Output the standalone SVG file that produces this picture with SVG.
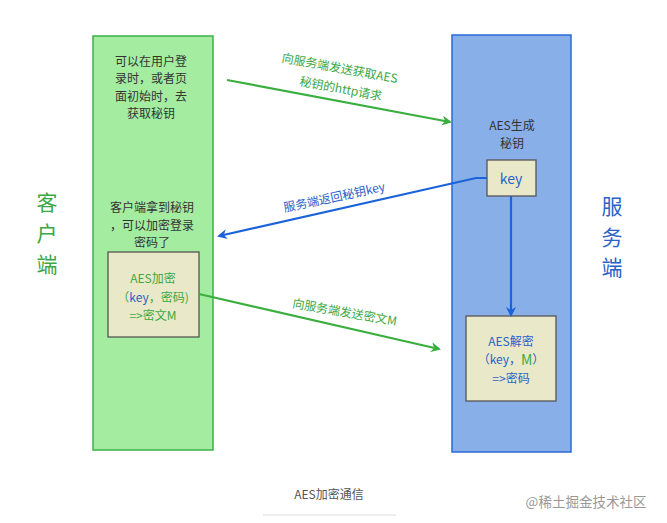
<svg xmlns="http://www.w3.org/2000/svg" width="667" height="523" viewBox="0 0 667 523">
<style>
text{font-family:"Noto Sans CJK SC","Noto Sans",sans-serif;text-anchor:middle;dominant-baseline:central}
.t{font-size:12px;fill:#333}
.g{fill:#3aa845}
.b{fill:#2a62c8}
.box{fill:#e9e8c9;stroke:#555;stroke-width:1.3}
.ga{stroke:#3aaf3f;stroke-width:2.2;fill:none}
.ba{stroke:#1b63d8;stroke-width:2.2;fill:none}
</style>
<defs>
<marker id="mg" markerWidth="10" markerHeight="10" refX="8" refY="5" orient="auto" markerUnits="userSpaceOnUse"><path d="M0,0 L10,5 L0,10 L3,5 Z" fill="#3aaf3f"/></marker>
<marker id="mb" markerWidth="10" markerHeight="10" refX="8" refY="5" orient="auto" markerUnits="userSpaceOnUse"><path d="M0,0 L10,5 L0,10 L3,5 Z" fill="#1b63d8"/></marker>
</defs>
<rect width="667" height="523" fill="#fff"/>
<g id="client">
<rect x="93" y="36" width="120" height="414" fill="#a4eda0" stroke="#3db04a" stroke-width="1.5"/>
<text class="t" x="151" y="60">可以在用户登</text>
<text class="t" x="151" y="77.6">录时，或者页</text>
<text class="t" x="151" y="95.2">面初始时，去</text>
<text class="t" x="151" y="112.8">获取秘钥</text>
<text class="t" x="152" y="206.4">客户端拿到秘钥</text>
<text class="t" x="152" y="224">，可以加密登录</text>
<text class="t" x="152" y="241.6">密码了</text>
</g>
<g id="encrypt">
<rect class="box" x="108" y="252" width="91" height="85"/>
<text class="t g" x="153" y="277">AES加密</text>
<text class="t g" x="153" y="296">（<tspan class="b">key</tspan>，密码)</text>
<text class="t g" x="153" y="314">=&gt;密文M</text>
</g>
<g id="server">
<rect x="452" y="35" width="119" height="417" fill="#89afe9" stroke="#2a6ad6" stroke-width="1.5"/>
<text class="t" x="512" y="124">AES生成</text>
<text class="t" x="512" y="142">秘钥</text>
</g>
<g id="key">
<rect class="box" x="487" y="160" width="49" height="36"/>
<text class="b" x="511" y="178" font-size="14">key</text>
</g>
<g id="decrypt">
<rect class="box" x="466" y="316" width="90" height="85"/>
<text class="t b" x="511" y="340">AES解密</text>
<text class="t b" x="511" y="358.5">（key，<tspan class="g" font-size="14">M</tspan>）</text>
<text class="t b" x="511" y="377">=&gt;密码</text>
</g>
<g id="side-labels">
<text class="g" x="47" y="201" font-size="21">客</text>
<text class="g" x="47" y="232" font-size="21">户</text>
<text class="g" x="47" y="263" font-size="21">端</text>
<text class="b" x="612" y="205" font-size="21">服</text>
<text class="b" x="612" y="236" font-size="21">务</text>
<text class="b" x="612" y="266" font-size="21">端</text>
</g>
<g id="connectors">
<path class="ga" d="M227,80 L450,122" marker-end="url(#mg)"/>
<path class="ba" d="M487,178 L476,178 L219,236" marker-end="url(#mb)"/>
<path class="ga" d="M199,294 L439,349" marker-end="url(#mg)"/>
<path class="ba" d="M511,196 L511,315" marker-end="url(#mb)"/>
<text class="t g" font-size="12.5" transform="translate(340,67) rotate(10.5)">向服务端发送获取AES</text>
<text class="t g" font-size="12.5" transform="translate(341,87.5) rotate(10.5)">秘钥的http请求</text>
<text class="t b" font-size="12.5" transform="translate(334,196) rotate(-12)">服务端返回秘钥key</text>
<text class="t g" font-size="12.5" transform="translate(345,311) rotate(10)">向服务端发送密文M</text>
</g>
<g id="caption">
<text x="329" y="493" font-size="12" fill="#555">AES加密通信</text>
<line x1="263" y1="515" x2="396" y2="515" stroke="#ddd" stroke-width="1"/>
<text x="586" y="501" font-size="13.5" fill="#999">@稀土掘金技术社区</text>
</g>
</svg>
